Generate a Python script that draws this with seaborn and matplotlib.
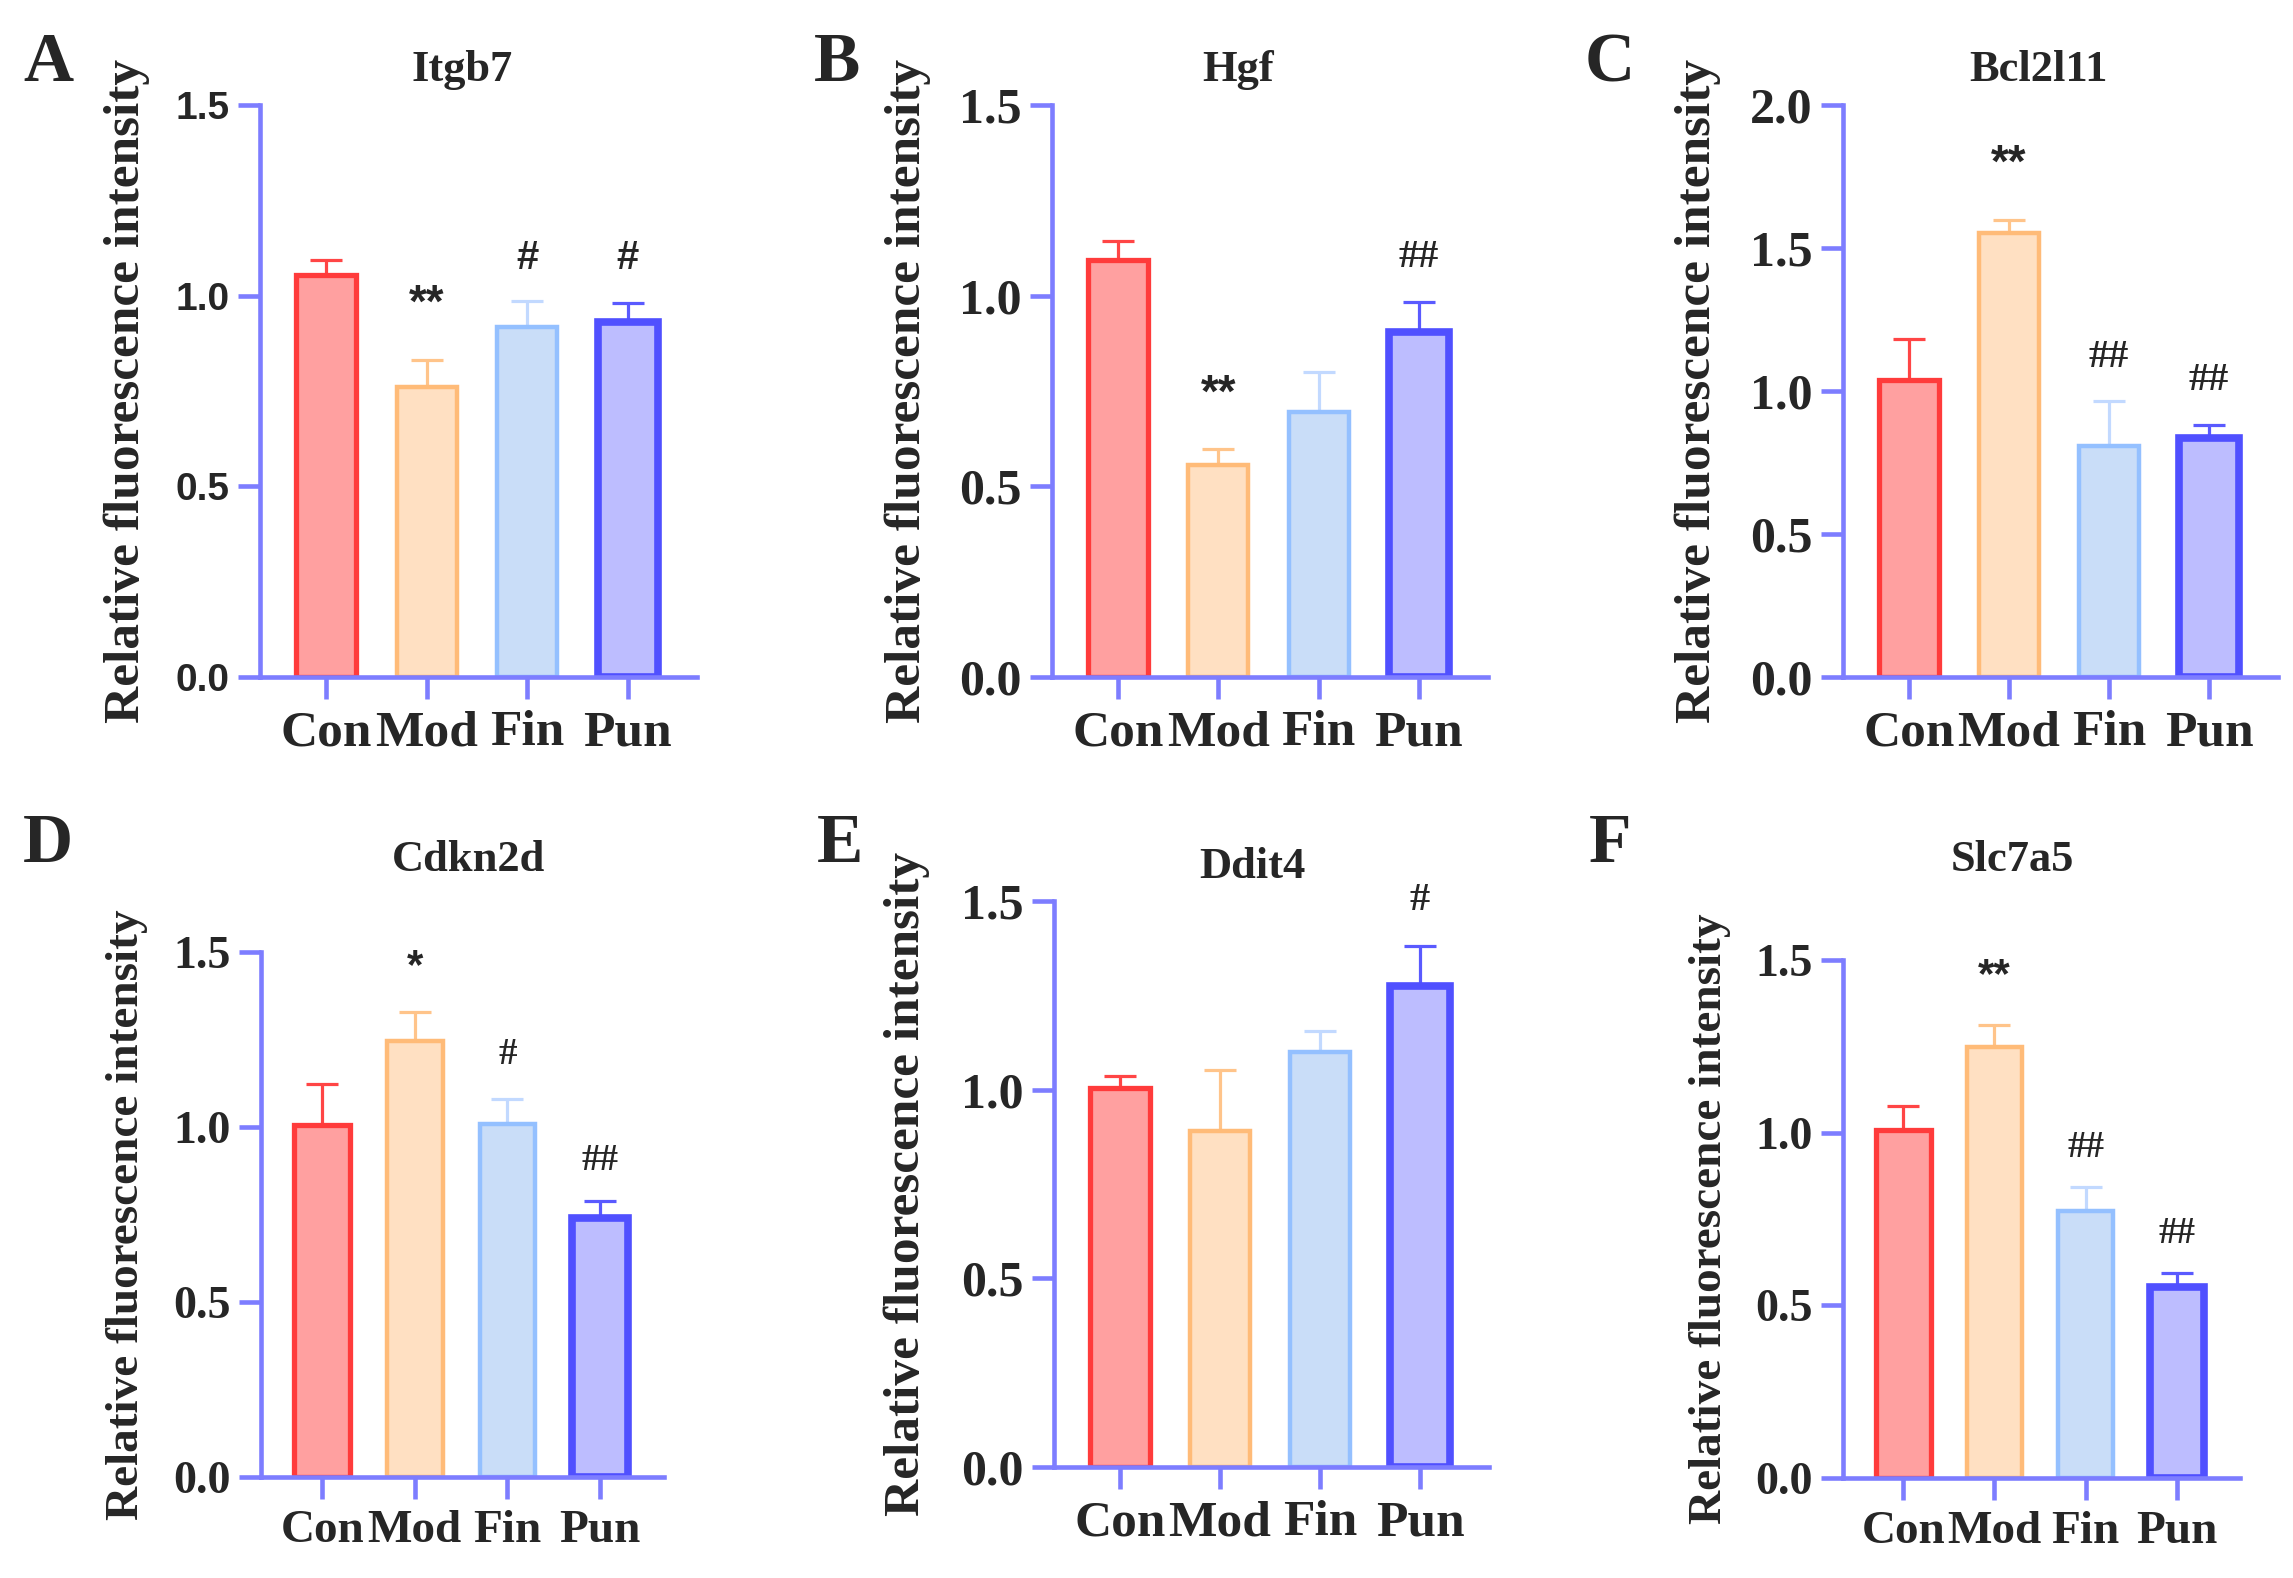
import matplotlib
matplotlib.use("Agg")
import matplotlib.pyplot as plt
import seaborn as sns
import numpy as np
import pandas as pd

groups = ["Con", "Mod", "Fin", "Pun"]

itgb7_mean = [1.055, 0.76, 0.917, 0.93]
itgb7_sem = [0.039, 0.072, 0.069, 0.051]
itgb7_mark = ["", "**", "#", "#"]
itgb7_mark_y = [np.nan, 1.01, 1.10, 1.10]

hgf_mean = [1.094, 0.556, 0.696, 0.906]
hgf_sem = [0.049, 0.042, 0.105, 0.077]
hgf_mark = ["", "**", "", "##"]
hgf_mark_y = [np.nan, 0.773, np.nan, 1.10]

bcl2l11_mean = [1.039, 1.551, 0.807, 0.835]
bcl2l11_sem = [0.144, 0.047, 0.157, 0.045]
bcl2l11_mark = ["", "**", "##", "##"]
bcl2l11_mark_y = [np.nan, 1.834, 1.118, 1.036]

cdkn2d_mean = [1.007, 1.247, 1.01, 0.739]
cdkn2d_sem = [0.116, 0.082, 0.07, 0.05]
cdkn2d_mark = ["", "*", "#", "##"]
cdkn2d_mark_y = [np.nan, 1.49, 1.207, 0.904]

ddit4_mean = [1.004, 0.89, 1.099, 1.275]
ddit4_sem = [0.033, 0.163, 0.057, 0.107]
ddit4_mark = ["", "", "", "#"]
ddit4_mark_y = [np.nan, np.nan, np.nan, 1.5]

slc7a5_mean = [1.008, 1.247, 0.772, 0.553]
slc7a5_sem = [0.07, 0.064, 0.07, 0.042]
slc7a5_mark = ["", "**", "##", "##"]
slc7a5_mark_y = [np.nan, 1.486, 0.958, 0.707]

fills = ["#FFA0A0", "#FFE0C2", "#C9DDF8", "#BDBDFF"]
edges = ["#FF3B3B", "#FFBB78", "#94C0FF", "#5050FF"]
err_cols = ["#FF4545", "#FFC48A", "#C2D9FF", "#5A5AFF"]
edge_w = [3.8, 3.2, 3.2, 5.5]
axis_col = "#7D7DFF"

W, H = 2293, 1578

sns.set_style("white")
plt.rcParams["font.family"] = ["Liberation Serif", "DejaVu Serif"]
plt.rcParams["font.weight"] = "bold"

fig = plt.figure(figsize=(W / 100, H / 100), dpi=100)

# name, letter, mean, sem, marks, mark y, ymax, yticks,
# axes px (left, right, top, bottom), ylabel x px, title px, letter px, scale, sans ticks
panels = [
    ("Itgb7", "A", itgb7_mean, itgb7_sem, itgb7_mark, itgb7_mark_y, 1.5, [0, 0.5, 1.0, 1.5],
     (260, 697, 105, 677), 127, (462, 70), (48, 64), 1.0, True),
    ("Hgf", "B", hgf_mean, hgf_sem, hgf_mark, hgf_mark_y, 1.5, [0, 0.5, 1.0, 1.5],
     (1052, 1488, 105, 677), 908, (1238, 70), (837, 64), 1.0, False),
    ("Bcl2l11", "C", bcl2l11_mean, bcl2l11_sem, bcl2l11_mark, bcl2l11_mark_y, 2.0, [0, 0.5, 1.0, 1.5, 2.0],
     (1843, 2278, 105, 677), 1698, (2038, 70), (1610, 64), 1.0, False),
    ("Cdkn2d", "D", cdkn2d_mean, cdkn2d_sem, cdkn2d_mark, cdkn2d_mark_y, 1.5, [0, 0.5, 1.0, 1.5],
     (261, 664, 952, 1477), 127, (468, 860), (48, 845), 0.92, False),
    ("Ddit4", "E", ddit4_mean, ddit4_sem, ddit4_mark, ddit4_mark_y, 1.5, [0, 0.5, 1.0, 1.5],
     (1054, 1489, 901, 1467), 907, (1252, 867), (840, 845), 1.0, False),
    ("Slc7a5", "F", slc7a5_mean, slc7a5_sem, slc7a5_mark, slc7a5_mark_y, 1.5, [0, 0.5, 1.0, 1.5],
     (1843, 2240, 960, 1478), 1710, (2012, 860), (1610, 845), 0.92, False),
]

for (name, letter, mean, sem, mark, mark_y, ymax, yticks,
     box, ylab_x, title_xy, letter_xy, s, sans) in panels:
    l, r, t, b = box
    ax = fig.add_axes([l / W, 1 - b / H, (r - l) / W, (b - t) / H])
    df = pd.DataFrame({"group": groups, "value": mean})
    sns.barplot(data=df, x="group", y="value", hue="group", palette=fills,
                width=0.6, errorbar=None, legend=False, saturation=1, ax=ax, zorder=2)
    for patch, ec, lw in zip(ax.patches, edges, edge_w):
        patch.set_edgecolor(ec)
        patch.set_linewidth(lw)
    for i in range(len(groups)):
        ax.errorbar(i, mean[i], yerr=[[0], [sem[i]]], fmt="none", ecolor=err_cols[i],
                    elinewidth=2.3, capsize=11.5, capthick=2.3, zorder=1)
        if not mark[i]:
            continue
        if "*" in mark[i]:
            fs = 33 * s
            ax.annotate(mark[i], (i, mark_y[i]), xytext=(0, -0.27 * fs),
                        textcoords="offset points", ha="center", va="center",
                        fontsize=fs, fontweight="bold", family=["Liberation Sans"])
        else:
            ax.text(i, mark_y[i], mark[i], ha="center", va="center",
                    fontsize=29 * s, fontweight="bold",
                    family=["Liberation Sans"] if sans else ["Liberation Serif"])

    ax.set_xlim(-0.66, 3.69)
    ax.set_ylim(0, ymax)
    ax.set_yticks(yticks)
    ax.set_yticklabels([f"{v:.1f}" for v in yticks])
    for side in ["top", "right"]:
        ax.spines[side].set_visible(False)
    for side in ["left", "bottom"]:
        ax.spines[side].set_color(axis_col)
        ax.spines[side].set_linewidth(3.3)
    ax.tick_params(axis="both", direction="out", length=16, width=3.3, color=axis_col,
                   bottom=True, left=True)
    ax.tick_params(axis="x", pad=8, labelsize=37 * s)
    ax.tick_params(axis="y", pad=6, labelsize=(28 if sans else 36 * s))
    for lab in ax.get_xticklabels():
        lab.set_fontweight("bold")
    for lab in ax.get_yticklabels():
        lab.set_fontweight("bold")
        if sans:
            lab.set_family("Liberation Sans")

    ax.set_xlabel("")
    ax.set_ylabel("Relative fluorescence intensity", fontsize=37 * s, fontweight="bold")
    ax.yaxis.set_label_coords(ylab_x / W, 1 - (t + b) / 2 / H, transform=fig.transFigure)
    ax.yaxis.label.set_verticalalignment("center")

    fig.text(title_xy[0] / W, 1 - title_xy[1] / H, name, ha="center", va="center",
             fontsize=32, fontweight="bold")
    fig.text(letter_xy[0] / W, 1 - letter_xy[1] / H, letter, ha="center", va="center",
             fontsize=50, fontweight="bold")

fig.savefig("out.png", dpi=100, facecolor="white")
